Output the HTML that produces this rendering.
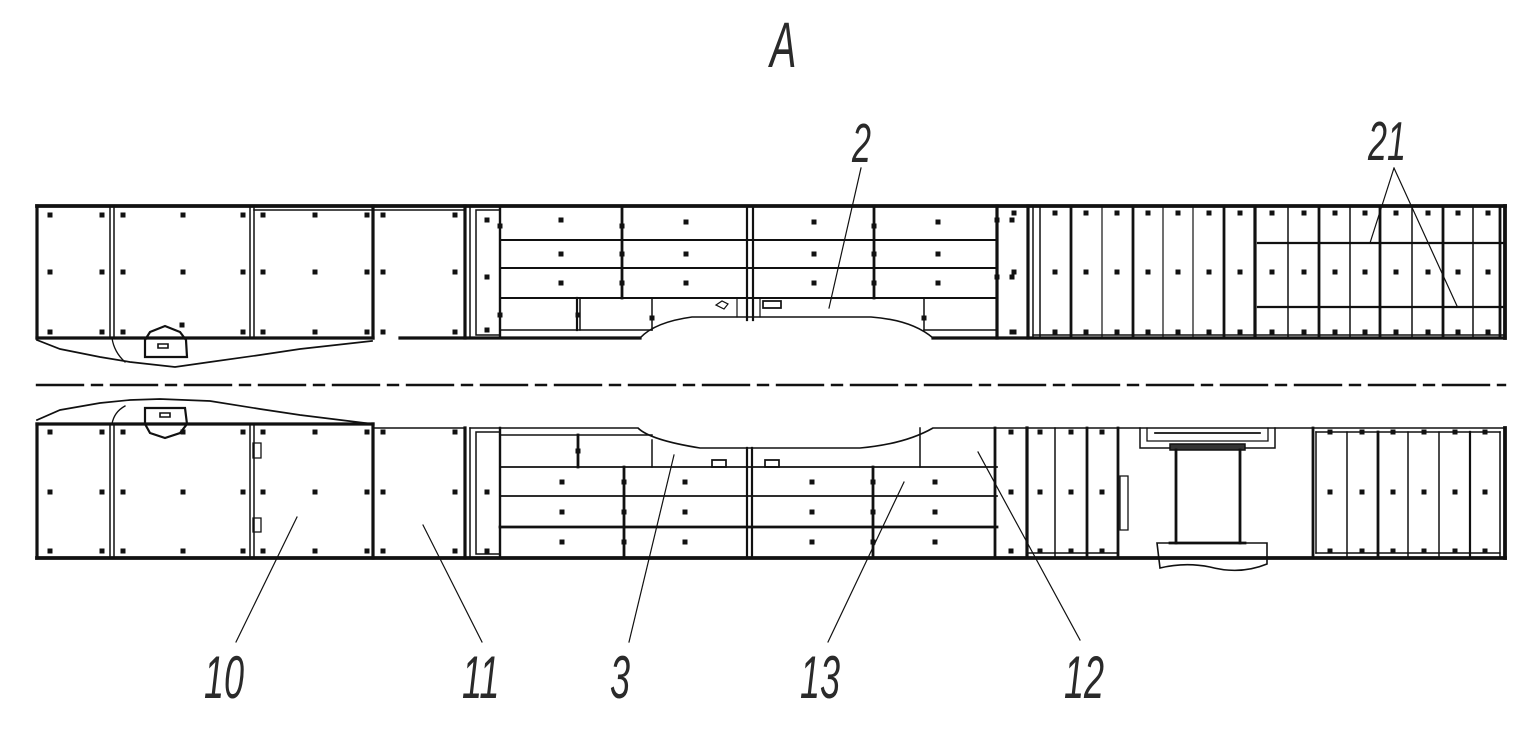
<!DOCTYPE html>
<html><head><meta charset="utf-8"><style>
html,body{margin:0;padding:0;background:#fff;}
svg{display:block;}
text{font-family:"Liberation Sans",sans-serif;font-style:italic;fill:#2a2a2a;}
</style></head><body>
<svg id="s" width="1536" height="733" viewBox="0 0 1536 733" xmlns="http://www.w3.org/2000/svg">
<g fill="none" stroke="#111" stroke-linecap="square" id="g"></g>
<g>
<text transform="translate(770,67) scale(0.62,1)" font-size="64">A</text>
<text transform="translate(852,162) scale(0.62,1)" font-size="55">2</text>
<text transform="translate(1368,160) scale(0.62,1)" font-size="55">21</text>
<text transform="translate(204,698) scale(0.6,1)" font-size="60">10</text>
<text transform="translate(462,698) scale(0.6,1)" font-size="60">11</text>
<text transform="translate(610,698) scale(0.6,1)" font-size="60">3</text>
<text transform="translate(800,698) scale(0.6,1)" font-size="60">13</text>
<text transform="translate(1064,698) scale(0.6,1)" font-size="60">12</text>
</g>
</svg>
<script>
var g=document.getElementById('g'),h='';
function L(a,b,c,d,w){h+='<line x1="'+a+'" y1="'+b+'" x2="'+c+'" y2="'+d+'" stroke-width="'+(w||1.5)+'"/>';}
function P(d,w,f){h+='<path d="'+d+'" stroke-width="'+(w||1.5)+'"'+(f?' fill="'+f+'"':'')+'/>';}
function D(x,y){h+='<rect x="'+(x-2.5)+'" y="'+(y-2.5)+'" width="5" height="5" fill="#111" stroke="none"/>';}
function V(x,y1,y2,w){L(x,y1,x,y2,w);}
function H(y,x1,x2,w){L(x1,y,x2,y,w);}
h+='<line x1="37" y1="385" x2="1505" y2="385" stroke-width="2.4" stroke-dasharray="46 9 10 9"/>';
// ===== TOP BAND =====
H(206,37,1505,3.8);
H(338,37,373,3.2);H(338,400,640,3.2);H(338,933,1505,3.2);
V(37,206,338,3.2);V(1505,206,338,3.8);
V(110,206,338,1.5);V(114,206,338,1.5);V(250,206,338,1.5);V(254,206,338,1.5);
V(373,206,338,3.2);V(465,206,338,3.2);V(470,206,338,1.5);
H(210,254,465,1.5);
P('M37,340 L60,349 L100,357 L130,362 L175,367 L210,362 L260,355 L300,349 L372,341',1.7);
P('M112,338 Q114,352 125,362',1.3);
P('M145,357 L145,340 L150,332 L165,326 L180,332 L186,340 L187,357 Z',2.2);
P('M158,344 h10 v4 h-10 z',1.6);
[[50,215],[102,215],[123,215],[183,215],[243,215],[263,215],[315,215],[367,215],[383,215],[455,215],
 [50,272],[102,272],[123,272],[183,272],[243,272],[263,272],[315,272],[367,272],[383,272],[455,272],
 [50,332],[102,332],[123,332],[243,332],[263,332],[315,332],[367,332],[383,332],[455,332],[182,325]].forEach(function(p){D(p[0],p[1]);});
P('M476,210 h24 v125 h-24 z',1.5);
V(500,206,338,2.4);
[240,268,298].forEach(function(y){H(y,500,997,2);});
V(622,206,298,2.8);V(747,206,320,2.2);V(753,206,320,2.2);V(874,206,298,2.8);V(997,206,338,3.2);V(1028,206,338,3.2);V(1033,206,338,1.5);
H(330,500,652,1.5);V(577,298,330,2.2);V(580,298,330,1.5);V(652,298,330,1.5);
H(330,924,997,1.5);V(924,298,330,1.5);
P('M640,338 Q655,322 692,317 L871,317 Q912,320 933,338',1.6);
V(737,298,317,1.2);V(760,298,317,1.2);P('M763,301 h18 v7 h-18 z',1.7);
P('M716,305 l6,-4 l6,3 l-4,5 z',1.2);
[[487,220],[487,277],[487,330],[561,220],[561,254],[561,283],[686,222],[686,254],[686,283],[814,222],[814,254],[814,283],[938,222],[938,254],[938,283],[500,226],[622,226],[622,254],[622,283],[874,226],[874,254],[874,283],[500,315],[578,315],[652,318],[924,318],[1012,220],[1012,277],[1012,332],[997,220],[997,277]].forEach(function(p){D(p[0],p[1]);});
H(335,1033,1255,1.5);H(335,1255,1505,1.5);
[[1040,1.5],[1071,2.8],[1102,1.2],[1133,2.8],[1163,1.2],[1193,1.2],[1224,2.8],[1255,3.2],[1288,1.5],[1319,2.8],[1350,1.5],[1380,2.8],[1412,1.5],[1443,2.8],[1473,1.5],[1500,2.8]].forEach(function(v){V(v[0],208,336,v[1]);});
H(243,1258,1503,2.2);H(307,1258,1503,2.2);
var xs=[1014,1055,1086,1117,1148,1178,1209,1240,1272,1304,1335,1365,1396,1428,1458,1488];
xs.forEach(function(x){D(x,213);D(x,272);D(x,332);});
// ===== BOTTOM BAND =====
H(558,37,1505,3.8);
H(424,37,373,3.2);
V(37,424,558,3.2);V(1505,428,558,3.8);
V(110,424,558,1.5);V(114,424,558,1.5);V(250,424,558,1.5);V(254,424,558,1.5);
V(373,424,558,3.2);V(465,428,558,3.2);V(470,428,558,1.5);
P('M253,443 h8 v15 h-8 z',1.3);P('M253,518 h8 v14 h-8 z',1.3);
P('M37,420 L60,410 L100,403 L130,400 L160,399 L210,401 L260,409 L300,415 L373,424',1.7);
H(428,373,465,1.5);
P('M112,424 Q114,412 125,406',1.3);
P('M145,408 L185,408 L187,424 L180,433 L165,438 L150,433 L145,424 Z',2.2);
P('M160,413 h10 v4 h-10 z',1.6);
[[50,432],[102,432],[123,432],[183,432],[243,432],[263,432],[315,432],[367,432],[383,432],[455,432],
 [50,492],[102,492],[123,492],[183,492],[243,492],[263,492],[315,492],[367,492],[383,492],[455,492],
 [50,551],[102,551],[123,551],[183,551],[243,551],[263,551],[315,551],[367,551],[383,551],[455,551]].forEach(function(p){D(p[0],p[1]);});
P('M470,428 L638,428 Q650,440 700,448 L860,448 Q905,444 933,428 L1505,428',1.6);
P('M476,432 h24 v122 h-24 z',1.5);
V(500,428,556,2.4);H(435,500,652,1.5);
H(467,500,997,1.7);H(496,500,997,1.7);H(527,500,997,2.8);
V(578,435,467,2.8);V(624,467,556,2.8);V(652,440,467,1.5);V(747,448,556,2.2);V(752,448,556,2.2);V(873,467,556,2.8);V(920,428,467,1.5);
V(995,428,556,2.8);V(1027,428,556,3.2);
P('M712,460 h14 v7 h-14 z',1.7);P('M765,460 h14 v7 h-14 z',1.7);
[[487,492],[487,551],[562,482],[562,512],[562,542],[685,482],[685,512],[685,542],[812,482],[812,512],[812,542],[935,482],[935,512],[935,542],[578,451],[624,482],[624,512],[624,542],[873,482],[873,512],[873,542],[1011,492],[1011,551],[1011,432]].forEach(function(p){D(p[0],p[1]);});
V(1055,428,556,1.5);V(1087,428,556,2.8);V(1118,428,556,2.8);
H(553,1027,1118,1.5);
P('M1120,476 h8 v54 h-8 z',1.3);
P('M1140,428 v20 h135 v-20',1.5);P('M1147,428 v13 h121 v-13',1.3);H(433,1155,1260,1.7);
P('M1170,444 h75 v6 h-75 z',1.5,'#333');
V(1176,450,543,2.8);V(1240,450,543,2.8);H(543,1170,1245,2.8);
P('M1157,543 L1267,543 L1267,564 Q1240,575 1210,567 Q1185,562 1160,568 Z',1.6);
V(1313,428,556,2.8);V(1316,432,553,1.5);
[[1347,1.5],[1378,2.8],[1408,1.5],[1439,1.5],[1470,2.2],[1500,1.5]].forEach(function(v){V(v[0],432,556,v[1]);});
H(432,1316,1500,1.5);H(553,1316,1500,1.5);
[1040,1071,1102,1330,1362,1393,1424,1455,1485].forEach(function(x){D(x,432);D(x,492);D(x,551);});
L(861,168,829,308,1.2);
L(1394,168,1370,243,1.2);L(1394,168,1457,306,1.2);H(243,1370,1380,1.5);
L(236,642,297,517,1.2);L(482,642,423,525,1.2);L(629,642,674,455,1.2);
L(828,642,904,482,1.2);L(1080,640,978,452,1.2);
g.innerHTML=h;
</script>
</body></html>
